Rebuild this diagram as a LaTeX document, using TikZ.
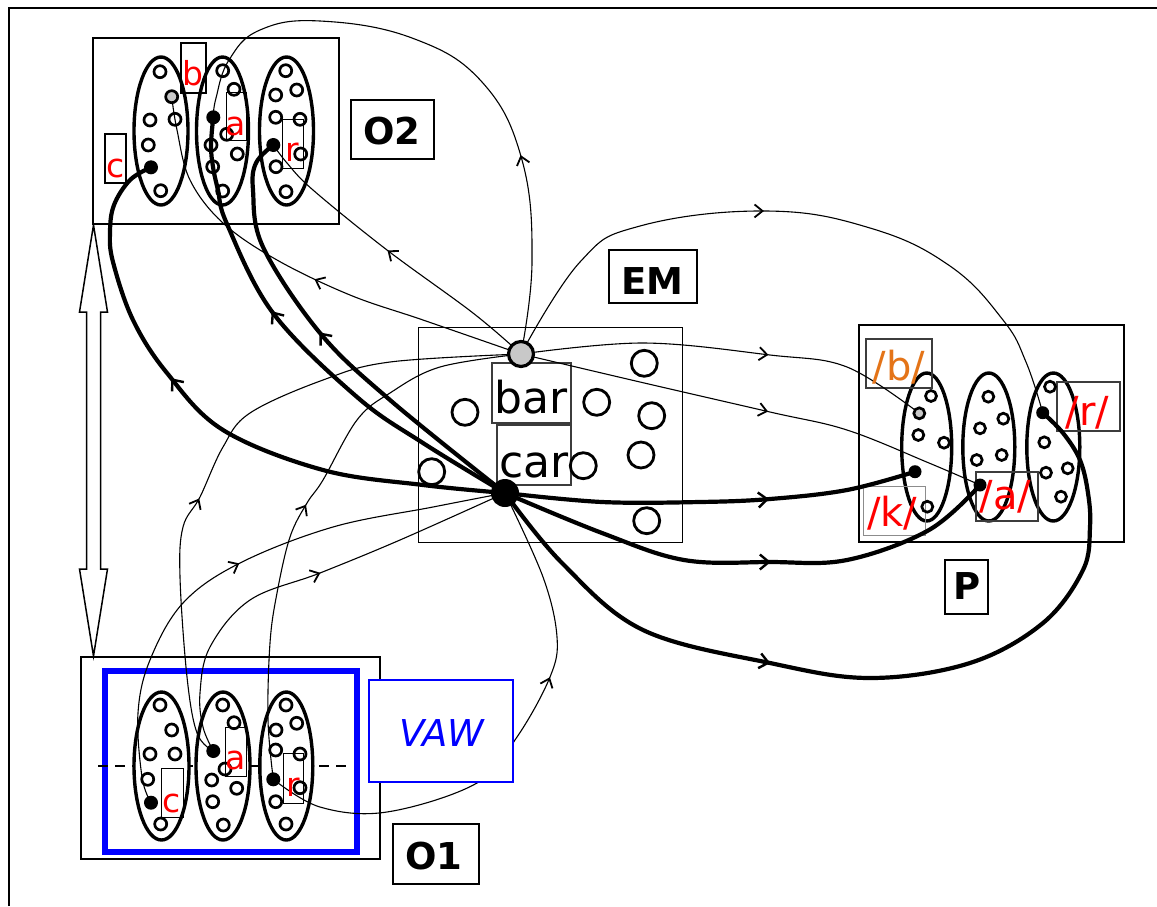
\documentclass[tikz,border=0pt]{standalone}
\usepackage{fontspec}
\setmainfont{DejaVu Sans}
\usetikzlibrary{arrows.meta,decorations.markings,calc,shapes.geometric}
\definecolor{lred}{RGB}{255,0,0}
\definecolor{lorange}{RGB}{228,116,24}
\definecolor{lblue}{RGB}{0,0,255}
\definecolor{lgray}{RGB}{200,200,200}
\definecolor{dgray}{RGB}{60,60,60}
\definecolor{mgray}{RGB}{140,140,140}
\tikzset{
  box/.style={draw, rectangle, line width=2pt, inner sep=0},
  thinbox/.style={draw, rectangle, line width=1pt, inner sep=0},
  lbox/.style={draw=dgray, rectangle, line width=1.5pt, inner sep=0},
  ell/.style={draw, ellipse, line width=3.4pt, fill=white, inner sep=0, minimum height=148pt},
  sc/.style={draw, circle, line width=2.7pt, minimum size=12pt, inner sep=0},
  scg/.style={sc, fill=lgray},
  dot/.style={fill=black, circle, minimum size=14pt, inner sep=0},
  bc/.style={draw, circle, line width=2.8pt, minimum size=26pt, inner sep=0},
  biglab/.style={inner sep=0, font=\bfseries\fontsize{37}{40}\selectfont},
  redlab/.style={inner sep=0, text=lred, font=\fontsize{33}{36}\selectfont},
  plab/.style={inner sep=0, text=lred, font=\fontsize{40}{42}\selectfont},
  emlab/.style={inner sep=0, font=\fontsize{44}{46}\selectfont},
  thinc/.style={line width=1.1pt},
  thickc/.style={line width=4.2pt},
  marr/.style={postaction={decorate, decoration={markings,
     mark=at position #1 with {\arrow{Straight Barb[length=8pt,width=13pt,line width=1.8pt]}}}}},
  marrT/.style={postaction={decorate, decoration={markings,
     mark=at position #1 with {\arrow{Straight Barb[length=9pt,width=15pt,line width=2.4pt]}}}}},
  sm/.style={smooth, tension=0.6}
}
\begin{document}
\begin{tikzpicture}[x=1pt,y=-1pt]
\useasboundingbox (0,0) rectangle (1157,906);
\fill[white] (0,0) rectangle (1157,906);
% outer frame
\draw[line width=1.5pt] (9,906) -- (9,8) -- (1157,8);

% main boxes
\node[box, minimum width=246pt, minimum height=186pt] (o2box) at (216,131) {};
\node[box, minimum width=299pt, minimum height=202pt] (o1box) at (230.5,758) {};
\node[thinbox, minimum width=264pt, minimum height=215pt] (embox) at (550,434.5) {};
\node[box, minimum width=265pt, minimum height=217pt] (pbox) at (991.5,433.5) {};
\node[draw=lblue, rectangle, line width=6pt, inner sep=0, minimum width=252pt, minimum height=181pt] (vawrect) at (231,761.5) {};

% dashed line in O1
\coordinate (dashL) at (98,766);
\coordinate (dashR) at (348,766);
\draw[line width=2.8pt, dash pattern=on 10pt off 7pt] (dashL) -- (dashR);

% ellipses
\node[ell, minimum width=54pt] (o2E1) at (161,131) {};
\node[ell, minimum width=52pt] (o2E2) at (222.5,131) {};
\node[ell, minimum width=54pt] (o2E3) at (286.5,131) {};
\node[ell, minimum width=55pt] (o1E1) at (161.5,766) {};
\node[ell, minimum width=54pt] (o1E2) at (223,766) {};
\node[ell, minimum width=53pt] (o1E3) at (286.3,766) {};
\node[ell, minimum width=50pt] (pE1) at (926.7,447) {};
\node[ell, minimum width=52pt] (pE2) at (988.8,447) {};
\node[ell, minimum width=53pt] (pE3) at (1053.3,447) {};

% label boxes
\node[thinbox, line width=1.5pt, minimum width=25pt, minimum height=50pt] (o2bBox) at (193.5,68) {};
\node[thinbox, line width=1.5pt, minimum width=21pt, minimum height=49pt] (o2cBox) at (115.5,158.5) {};
\node[thinbox, minimum width=20pt, minimum height=48pt] (o2aBox) at (236,116) {};
\node[thinbox, minimum width=21pt, minimum height=49pt] (o2rBox) at (292.5,143.5) {};
\node[thinbox, minimum width=21pt, minimum height=49pt] (o1aBox) at (235.5,751.5) {};
\node[thinbox, minimum width=20pt, minimum height=50pt] (o1rBox) at (293,778) {};
\node[thinbox, minimum width=22pt, minimum height=49pt] (o1cBox) at (172,792.5) {};
\node[lbox, line width=2pt, minimum width=79pt, minimum height=60pt] (barBox) at (531.5,393) {};
\node[lbox, line width=2pt, minimum width=74pt, minimum height=60pt] (carBox) at (534,455) {};
\node[lbox, minimum width=66pt, minimum height=49pt] (pbBox) at (899,363.5) {};
\node[lbox, minimum width=63pt, minimum height=49pt] (prBox) at (1088.5,406.5) {};
\node[lbox, minimum width=62pt, minimum height=49pt] (paBox) at (1007,496.5) {};
\node[draw=mgray, rectangle, line width=1pt, inner sep=0, minimum width=62pt, minimum height=49pt] (pkBox) at (894,510.5) {};

% named dots (positions)
\coordinate (o2c) at (151,167.3);
\coordinate (o2b) at (171.7,96.7);
\coordinate (o2a) at (213.3,117.3);
\coordinate (o2r) at (273.3,145);
\coordinate (o1c) at (151,802.7);
\coordinate (o1a) at (213.3,751);
\coordinate (o1r) at (273.3,779.3);
\coordinate (pb) at (919.3,413.3);
\coordinate (pk) at (915,471.7);
\coordinate (pa) at (980,485);
\coordinate (pr) at (1042.7,412.7);
\coordinate (emG) at (521,354);
\coordinate (emB) at (505,493);

% thick connectors
\draw[thickc, marrT=0.6] plot[sm] coordinates {(emB) (423,485) (323,470) (223,430) (167,373) (133,320) (113,262) (110,232) (114,205) (130,180) (o2c)};
\draw[thickc, marrT=0.59] plot[sm] coordinates {(emB) (423,443) (357,397) (273,313) (227,224) (218,190) (213,167) (211,145) (o2a)};
\draw[thickc, marrT=0.535] plot[sm] coordinates {(emB) (390,400) (320,333) (263,247) (253,190) (256,163) (o2r)};
\draw[thickc, marrT=0.64] plot[sm] coordinates {(emB) (602,502) (700,502) (770,499) (847,490) (pk)};
\draw[thickc, marrT=0.545] plot[sm] coordinates {(emB) (602,533) (684,560) (770,562) (847,560) (929,530) (pa)};
\draw[thickc, marrT=0.384] plot[sm] coordinates {(emB) (562,563) (643,630) (770,663) (870,678) (970,663) (1043,623) (1083,570) (1090,527) (1088,493) (1080,460) (1063,433) (pr)};

% thin connectors
\draw[thinc, marr=0.47] plot[sm] coordinates {(emG) (423,320) (350,295) (277,260) (223,223) (190,180) (177,130) (o2b)};
\draw[thinc, marr=0.52] plot[sm] coordinates {(emG) (473,313) (387,250) (313,190) (287,163) (o2r)};
\draw[thinc, marr=0.32] plot[smooth, tension=0.7] coordinates {(emG) (532,262) (522,160) (482,82) (412,38) (320,21) (260,30) (229,60) (216,98) (o2a)};
\draw[thinc, marr=0.45] plot[smooth, tension=0.7] coordinates {(emG) (580,262) (640,226) (766,211) (870,228) (950,266) (1003,320) (1026,362) (pr)};
\draw[thinc, marr=0.6] plot[sm] coordinates {(emG) (643,343) (770,355) (847,367) (pb)};
\draw[thinc, marr=0.53] plot[sm] coordinates {(emG) (640,382) (770,412) (847,430) (929,463) (pa)};
\draw[thinc, marr=0.41] plot[sm] coordinates {(o1a) (197,733) (187,677) (180,577) (183,527) (200,497) (223,447) (250,413) (323,380) (390,362) (emG)};
\draw[thinc, marr=0.5] plot[sm] coordinates {(o1r) (268,720) (270,643) (277,593) (290,537) (307,503) (323,480) (357,420) (390,393) (440,367) (emG)};
\draw[thinc, marr=0.505] plot[sm] coordinates {(o1c) (142,777) (138,713) (150,660) (183,603) (240,563) (333,527) (433,507) (emB)};
\draw[thinc, marr=0.55] plot[sm] coordinates {(o1a) (203,727) (200,693) (210,647) (250,600) (320,573) (400,540) (emB)};
\draw[thinc, marr=0.64] plot[sm] coordinates {(o1r) (320,807) (387,812) (477,783) (517,737) (550,677) (557,637) (543,577) (emB)};

% small circles O2
\foreach \p [count=\i] in {{160,71.7},{150,120},{175,119.3},{148.3,145},{160.7,190.7}}
  \node[sc] (o2e1c\i) at (\p) {};
\foreach \p [count=\i] in {{222.7,70.7},{234,89.3},{226.7,134.3},{211,145},{237.3,154},{212.7,166.7},{222.7,191}}
  \node[sc] (o2e2c\i) at (\p) {};
\foreach \p [count=\i] in {{285.7,70.7},{275.7,95},{296.7,90},{275.7,117.3},{300,119.3},{300.7,154},{276,166.7},{286,191.7}}
  \node[sc] (o2e3c\i) at (\p) {};
% small circles O1
\foreach \p [count=\i] in {{160,705},{171.7,730},{150,754},{175,754},{147.7,779.3},{160.7,824}}
  \node[sc] (o1e1c\i) at (\p) {};
\foreach \p [count=\i] in {{222.7,705},{234,722.7},{225,769},{211.7,780},{236.7,788.3},{212.7,801.7},{223.3,825}}
  \node[sc] (o1e2c\i) at (\p) {};
\foreach \p [count=\i] in {{286,705},{276,730},{296.7,723.3},{275.7,750},{300,754},{300,787.7},{275.7,801.7},{286,824}}
  \node[sc] (o1e3c\i) at (\p) {};
% small circles P
\foreach \p [count=\i] in {{931,396},{918.3,435},{944,442.7},{927.3,506.7}}
  \node[sc, minimum size=11pt] (pe1c\i) at (\p) {};
\foreach \p [count=\i] in {{988.3,396.7},{1003.3,418.7},{980,428.3},{1001.7,455},{976.7,460}}
  \node[sc, minimum size=11pt] (pe2c\i) at (\p) {};
\foreach \p [count=\i] in {{1050,386.7},{1044.3,442.3},{1046,472.7},{1067.7,468.3},{1061,496.7}}
  \node[sc, minimum size=11pt] (pe3c\i) at (\p) {};
% EM circles
\foreach \p [count=\i] in {{465,412.3},{596.7,402.3},{644.3,363.3},{651.7,415.7},{641,455},{583.3,465.7},{431.7,471.7},{646.7,520.7}}
  \node[bc] (emc\i) at (\p) {};

% dots
\node[scg] (o2bDot) at (o2b) {};
\node[dot] (o2cDot) at (o2c) {};
\node[dot] (o2aDot) at (o2a) {};
\node[dot] (o2rDot) at (o2r) {};
\node[dot] (o1cDot) at (o1c) {};
\node[dot] (o1aDot) at (o1a) {};
\node[dot] (o1rDot) at (o1r) {};
\node[scg, minimum size=11pt] (pbDot) at (pb) {};
\node[dot, minimum size=13pt] (pkDot) at (pk) {};
\node[dot, minimum size=13pt] (paDot) at (pa) {};
\node[dot, minimum size=13pt] (prDot) at (pr) {};
\node[draw, circle, fill=lgray, line width=3.2pt, minimum size=25pt, inner sep=0] (emGDot) at (emG) {};
\node[dot, minimum size=28pt] (emBDot) at (emB) {};

% texts
\node[redlab] (o2bTxt) at (193.3,73.3) {b};
\node[redlab] (o2cTxt) at (115.3,168.3) {c};
\node[redlab] (o2aTxt) at (235.7,126) {a};
\node[redlab] (o2rTxt) at (292.3,152.3) {r};
\node[redlab] (o1aTxt) at (235.7,760) {a};
\node[redlab] (o1rTxt) at (293.3,787.3) {r};
\node[redlab] (o1cTxt) at (171.7,803.3) {c};
\node[emlab] (barTxt) at (530.7,397.3) {bar};
\node[emlab] (carTxt) at (534,465) {car};
\node[plab, text=lorange] (pbTxt) at (899,367.3) {/b/};
\node[plab] (prTxt) at (1087.3,412.3) {/r/};
\node[plab] (paTxt) at (1005.7,496.7) {/a/};
\node[plab] (pkTxt) at (892.3,513.3) {/k/};

% VAW box
\node[draw=lblue, fill=white, rectangle, line width=1.5pt, inner sep=0, minimum width=144pt, minimum height=102pt] (vawBox) at (441,731) {};
\node[inner sep=0, text=lblue, font=\itshape\fontsize{37}{40}\selectfont] (vawTxt) at (441.7,733.3) {VAW};

% title boxes
\node[box, minimum width=83pt, minimum height=59pt] (o2lab) at (392.5,129.5) {};
\node[biglab] (o2labTxt) at (392,131) {O2};
\node[box, minimum width=88pt, minimum height=53pt] (emlabBox) at (653,276.5) {};
\node[biglab] (emlabTxt) at (652.3,280.7) {EM};
\node[box, minimum width=43pt, minimum height=54pt] (plabBox) at (966.5,587) {};
\node[biglab] (plabTxt) at (966.7,586) {P};
\node[box, minimum width=86pt, minimum height=60pt] (o1labBox) at (436,854) {};
\node[biglab] (o1labTxt) at (434,856) {O1};

% double arrow between O2 and O1
\coordinate (dA) at ([xshift=1.5pt]o2box.south west);
\coordinate (dB) at ([xshift=13.5pt]o1box.north west);
\draw[line width=1.5pt, fill=white] (dA) -- ++(14,87) -- ++(-7,0) -- ($(dB)+(7,-87)$) -- ++(7,0) -- (dB) -- ++(-14,-87) -- ++(7,0) -- ($(dA)+(-7,87)$) -- ++(-7,0) -- cycle;
\end{tikzpicture}
\end{document}
